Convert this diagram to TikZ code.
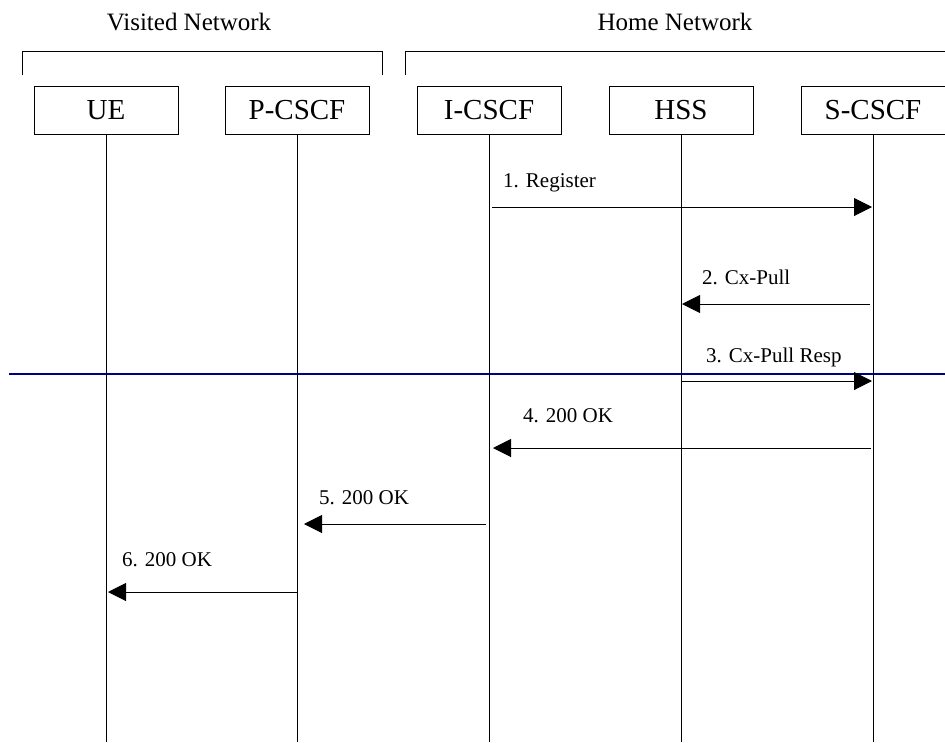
\documentclass[tikz,border=0pt]{standalone}
\usepackage{fontspec}
\setmainfont{Liberation Serif}
\usetikzlibrary{arrows.meta}
\definecolor{navyline}{RGB}{0,0,128}

\begin{document}
\begin{tikzpicture}
      [x=1pt,y=-1pt,
       entity/.style={draw,line width=1pt,minimum width=144pt,minimum height=48pt,inner sep=0pt,font=\fontsize{29}{30}\selectfont},
       msg/.style={line width=1pt,-{Triangle[length=18pt,width=18pt]}},
       msg label/.style={anchor=base west,inner sep=0pt,font=\fontsize{21}{22}\selectfont},
       net label/.style={anchor=base,inner sep=0pt,font=\fontsize{25}{26}\selectfont}]
        \useasboundingbox (0,0) rectangle (945,742);

        \node[net label] (visited) at (189,30) {Visited Network};
        \node[net label] (home) at (675,30) {Home Network};
        \draw[line width=1pt] (22,75) -- (22,51) -- (382,51) -- (382,75);
        \draw[line width=1pt] (405,75) -- (405,51) -- (945,51);

        \node[entity] (ue) at (106,110) {UE};
        \node[entity] (pcscf) at (297,110) {P-CSCF};
        \node[entity] (icscf) at (489,110) {I-CSCF};
        \node[entity] (hss) at (681,110) {HSS};
        \node[entity] (scscf) at (873,110) {S-CSCF};

        \coordinate (ue end) at (106,742);
        \coordinate (pcscf end) at (297,742);
        \coordinate (icscf end) at (489,742);
        \coordinate (hss end) at (681,742);
        \coordinate (scscf end) at (873,742);

        \draw[line width=1pt] (ue) -- (ue end);
        \draw[line width=1pt] (pcscf) -- (pcscf end);
        \draw[line width=1pt] (icscf) -- (icscf end);
        \draw[line width=1pt] (hss) -- (hss end);
        \draw[line width=1pt] (scscf) -- (scscf end);

        \coordinate (sep a) at (9,374);
        \coordinate (sep b) at (945,374);
        \draw[navyline,line width=2pt] (sep a) -- (sep b);

        \coordinate (m1 a) at (492,207);
        \coordinate (m1 b) at (872,207);
        \coordinate (m2 a) at (870,304);
        \coordinate (m2 b) at (682,304);
        \coordinate (m3 a) at (682,381);
        \coordinate (m3 b) at (872,381);
        \coordinate (m4 a) at (871,448);
        \coordinate (m4 b) at (493,448);
        \coordinate (m5 a) at (486,524);
        \coordinate (m5 b) at (304,524);
        \coordinate (m6 a) at (297,592);
        \coordinate (m6 b) at (108,592);

        \draw[msg] (m1 a) -- (m1 b);
        \draw[msg] (m2 a) -- (m2 b);
        \draw[msg] (m3 a) -- (m3 b);
        \draw[msg] (m4 a) -- (m4 b);
        \draw[msg] (m5 a) -- (m5 b);
        \draw[msg] (m6 a) -- (m6 b);

        \node[msg label] (l1) at (503,187) {1. Register};
        \node[msg label] (l2) at (702,284) {2. Cx-Pull};
        \node[msg label] (l3) at (706,362) {3. Cx-Pull Resp};
        \node[msg label] (l4) at (523,422) {4. 200 OK};
        \node[msg label] (l5) at (319,504) {5. 200 OK};
        \node[msg label] (l6) at (122,566) {6. 200 OK};

      \end{tikzpicture}
\end{document}
